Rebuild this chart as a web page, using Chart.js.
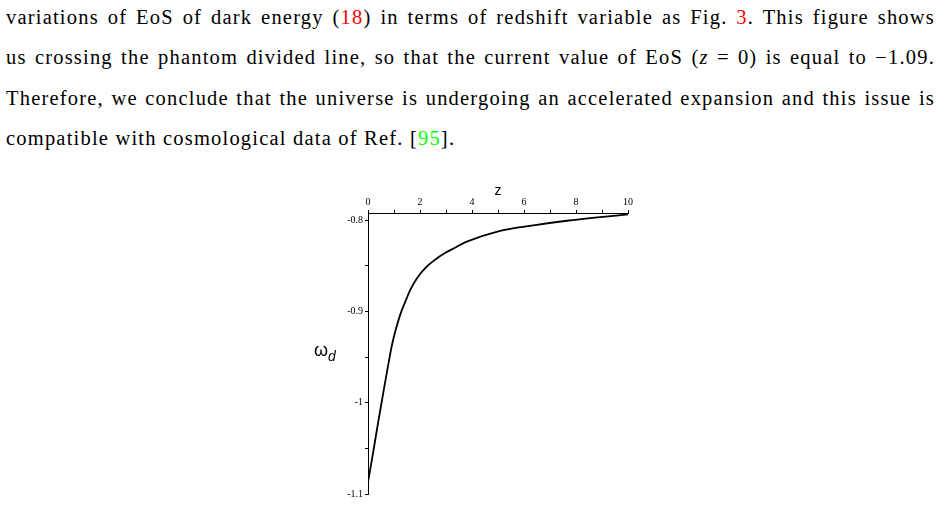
<!DOCTYPE html>
<html>
<head>
<meta charset="utf-8">
<script src="https://cdn.jsdelivr.net/npm/chart.js@4.4.0/dist/chart.umd.min.js"></script>
<style>
  html, body { margin: 0; padding: 0; background: #fff; }
  body { width: 945px; height: 505px; position: relative; overflow: hidden; }
  #texto {
    position: absolute; left: 6px; top: -3px; width: 929px;
    font-family: "Liberation Serif", serif; font-size: 20.5px; letter-spacing: 1.2px;
    line-height: 40.3px; color: #000;
  }
  #texto div { text-align: justify; text-align-last: justify; }
  #texto div.ultima { text-align: left; text-align-last: left; }
  .ref-rojo { color: #ff0000; }
  .ref-verde { color: #00ff00; }
  #grafico { position: absolute; left: 280px; top: 170px; width: 380px; height: 335px; }
  #ylab {
    position: absolute; left: 314px; top: 340px;
    font-family: "Liberation Sans", sans-serif; font-size: 18px; color: #000;
  }
  #ylab sub { font-style: italic; font-size: 14px; vertical-align: -5px; }
</style>
</head>
<body>
<div id="texto">
  <div>variations of EoS of dark energy (<span class="ref-rojo">18</span>) in terms of redshift variable as Fig. <span class="ref-rojo">3</span>. This figure shows</div>
  <div>us crossing the phantom divided line, so that the current value of EoS (<i>z</i> = 0) is equal to −1.09.</div>
  <div>Therefore, we conclude that the universe is undergoing an accelerated expansion and this issue is</div>
  <div class="ultima">compatible with cosmological data of Ref. [<span class="ref-verde">95</span>].</div>
</div>
<div id="grafico"><canvas id="lienzo" width="380" height="335"></canvas></div>
<div id="ylab">ω<sub>d</sub></div>
<script>
// valores (z, omega_d)
const zValores = [0, 0.2, 0.4, 0.6, 0.8, 0.92, 1.05, 1.24, 1.44, 1.63, 1.89, 2.2, 2.58, 2.96, 3.36, 3.75, 5.08, 6.36, 7.65, 8.93, 10];
const wValores = [-1.087, -1.054, -1.02, -0.987, -0.955, -0.937, -0.9217, -0.9034, -0.8888, -0.876, -0.8632, -0.8523, -0.8432, -0.8359, -0.8298, -0.824, -0.8115, -0.8055, -0.8005, -0.7965, -0.7935];

// ticks
const xTicksMayores = [0, 2, 4, 6, 8, 10];
const xTicksMenores = [1, 3, 5, 7, 9];
const yTicksMayores = [-1.1, -1, -0.9, -0.8];
const yTicksMenores = [-1.05, -0.95, -0.85];
const yEtiquetas = ["-1.1", "-1", "-0.9", "-0.8"];

const fuenteTicks = { family: "Liberation Serif", size: 10 };

new Chart(document.getElementById("lienzo").getContext("2d"), {
    type: "line",
    data: {
        datasets: [
            {
                data: zValores.map((z, i) => ({ x: z, y: wValores[i] })),
                borderColor: "#000",
                borderWidth: 1.8,
                pointRadius: 0,
                fill: false,
                cubicInterpolationMode: "monotone",
            },
        ],
    },
    options: {
        responsive: false,
        animation: false,
        devicePixelRatio: 1,
        layout: { padding: { left: 0, top: 0, right: 32, bottom: 11 } },
        plugins: { legend: { display: false }, tooltip: { enabled: false } },
        scales: {
            x: {
                type: "linear",
                position: "top",
                min: 0,
                max: 10,
                afterBuildTicks: (s) => {
                    s.ticks = [...xTicksMayores, ...xTicksMenores].sort((a, b) => a - b).map((v) => ({ value: v }));
                },
                afterFit: (s) => { s.height = 43; },
                grid: { drawOnChartArea: false, drawTicks: true, tickLength: 3, tickColor: "#000", tickWidth: 1 },
                border: { display: true, color: "#000", width: 1 },
                ticks: {
                    autoSkip: false,
                    maxRotation: 0,
                    padding: 2,
                    color: "#000",
                    font: fuenteTicks,
                    callback: (v) => (xTicksMayores.includes(v) ? String(v) : ""),
                },
                title: {
                    display: true,
                    text: "z",
                    color: "#000",
                    font: { family: "Liberation Sans", size: 14 },
                    padding: { top: 13, bottom: 0 },
                },
            },
            y: {
                type: "linear",
                min: -1.1,
                max: -0.792,
                afterBuildTicks: (s) => {
                    s.ticks = [...yTicksMayores, ...yTicksMenores].sort((a, b) => a - b).map((v) => ({ value: v }));
                },
                afterFit: (s) => { s.width = 88; },
                grid: { drawOnChartArea: false, drawTicks: true, tickLength: 3, tickColor: "#000", tickWidth: 1 },
                border: { display: true, color: "#000", width: 1 },
                ticks: {
                    autoSkip: false,
                    padding: 2,
                    color: "#000",
                    font: fuenteTicks,
                    callback: (v) => {
                        const i = yTicksMayores.findIndex((m) => Math.abs(m - v) < 1e-9);
                        return i >= 0 ? yEtiquetas[i] : "";
                    },
                },
            },
        },
    },
});
</script>
</body>
</html>
